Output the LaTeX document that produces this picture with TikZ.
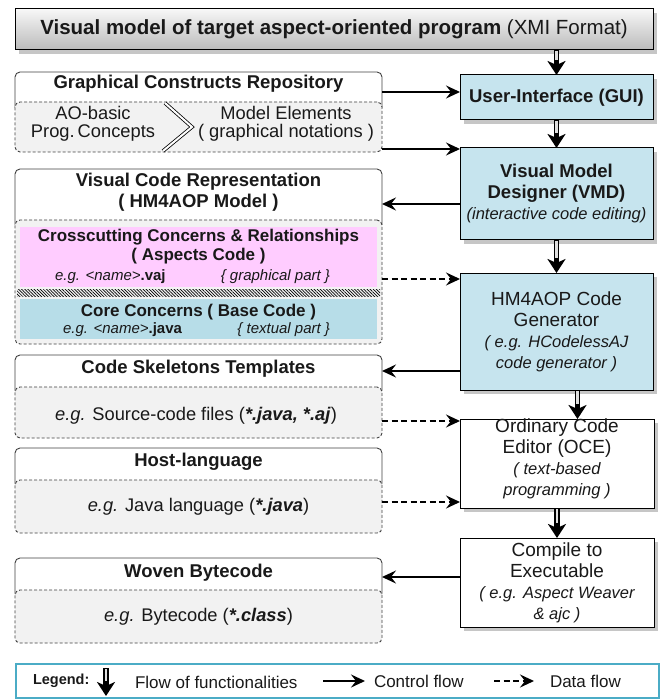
\documentclass[tikz,border=0pt]{standalone}
\usepackage{fontspec}
\setmainfont{Liberation Sans}
\usetikzlibrary{arrows.meta,shadows,patterns.meta,calc}

\definecolor{procblue}{RGB}{198,228,238}
\definecolor{coreblue}{RGB}{183,221,232}
\definecolor{aspectpink}{RGB}{255,204,255}
\definecolor{panelgray}{RGB}{242,242,242}
\definecolor{edgegray}{RGB}{64,64,64}
\definecolor{legendedge}{RGB}{75,172,198}
\definecolor{inkdark}{RGB}{25,25,25}

% font presets
\newcommand\fBanner{\fontsize{20.5}{23}\selectfont}
\newcommand\fHead{\fontsize{18.5}{21}\selectfont\bfseries}
\newcommand\fBig{\fontsize{19}{21}\selectfont}
\newcommand\fText{\fontsize{18.3}{18.5}\selectfont}
\newcommand\fNote{\fontsize{16.5}{21}\selectfont\mdseries\itshape}
\newcommand\fSub{\fontsize{17}{19}\selectfont\bfseries}
\newcommand\fEg{\fontsize{15}{16}\selectfont\mdseries}
\newcommand\fLeg{\fontsize{17}{18}\selectfont}

\begin{document}
\begin{tikzpicture}[x=1pt, y=-1pt, text=inkdark,
  every node/.style={inner sep=0pt, outer sep=0pt},
  banner/.style={anchor=north west, draw=black, line width=1pt,
    top color=black!3, bottom color=black!27,
    drop shadow={shadow xshift=4pt, shadow yshift=-4pt, opacity=0.45}},
  proc/.style={anchor=north west, draw=black, line width=1pt, fill=procblue,
    align=center,
    drop shadow={shadow xshift=4pt, shadow yshift=-4pt, opacity=0.45}},
  plainproc/.style={proc, fill=white},
  outer/.style={anchor=north west, draw=edgegray, line width=0.9pt,
    rounded corners=5pt, fill=white, minimum width=367pt},
  panel/.style={anchor=north west, draw=edgegray, line width=0.9pt,
    dash pattern=on 3pt off 2pt, rounded corners=5pt, fill=panelgray,
    minimum width=367pt},
  ctrl/.style={line width=2pt, draw=black,
    -{Stealth[length=14pt,width=13pt,inset=5pt]}},
  data/.style={ctrl, dash pattern=on 6pt off 3.5pt},
  flow/.style={line width=5.2pt, draw=black,
    -{Stealth[length=14pt,width=18pt,inset=4pt]},
    postaction={draw=white!88!black, line width=2.4pt, -, shorten >=15pt, shorten <=1pt}},
  head/.style={font=\fHead},
]
\useasboundingbox (0,0) rectangle (664,700);

% ---------- banner ----------
\node[banner, minimum width=638pt, minimum height=41pt] (top) at (15,9)
  {\fBanner\textbf{Visual model of target aspect-oriented program} (XMI Format)};

% ---------- tool chain (right column) ----------
\node[proc, minimum width=193pt, minimum height=45pt, font=\fHead] (gui) at (460,75)
  {User-Interface (GUI)};
\node[proc, minimum width=193pt, minimum height=92pt, font=\fHead] (vmd) at (460,148)
  {Visual Model\\Designer (VMD)\\{\fNote (interactive code editing)}};
\node[proc, minimum width=193pt, minimum height=117pt, font=\fBig] (hm) at (460,273)
  {HM4AOP Code\\Generator\\{\fNote ( e.g. HCodelessAJ}\\{\fNote code generator )}};
\node[plainproc, minimum width=194pt, minimum height=89pt] (oce) at (460,419) {};
\node[align=center, font=\fBig] (oceT) at (557,459)
  {Ordinary Code\\Editor (OCE)\\{\fNote ( text-based}\\{\fNote programming )}};
\node[plainproc, minimum width=194pt, minimum height=89pt, font=\fBig] (cmp) at (460,538)
  {Compile to\\Executable\\{\fNote ( e.g. Aspect Weaver}\\{\fNote \& ajc )}};

% ---------- artefacts (left column) ----------
% Graphical Constructs Repository
\node[outer, minimum height=40pt] (gcrHead) at (15,72) {};
\node[panel, minimum height=50pt] (gcrPanel) at (15,102) {};
\node[head] (gcrT) at (198.5,84) {Graphical Constructs Repository};
\node[align=center, font=\fText] (gcrA) at (93,124) {AO-basic\\Prog.\,Concepts};
\node[align=center, font=\fText] (gcrB) at (286,124) {Model Elements\\( graphical notations )};
\draw[line width=0.8pt, double distance=2pt, line join=miter]
  (165,103) -- (192,127) -- (163,151);

% Visual Code Representation
\node[outer, minimum height=60pt] (vcrHead) at (15,169) {};
\node[panel, minimum height=124pt] (vcrPanel) at (15,220) {};
\node[head, align=center] (vcrT) at (198.5,192) {Visual Code Representation\\( HM4AOP Model )};
\node[anchor=north west, fill=aspectpink, minimum width=357pt, minimum height=60pt] (asp) at (20,227) {};
\node[anchor=north west, pattern={Lines[angle=-45,distance=2.2pt,line width=0.7pt]},
  pattern color=black, minimum width=363pt, minimum height=7pt] (hatch) at (17,289) {};
\node[anchor=north west, fill=coreblue, minimum width=357pt, minimum height=40pt] (core) at (20,299) {};
\node[align=center, font=\fSub] (aspT) at (198.5,247)
  {Crosscutting Concerns \& Relationships\\( Aspects Code )};
\node[anchor=west, font=\fEg] (aspEg) at (55,277) {\textit{e.g. <name>}\textbf{.vaj}};
\node[anchor=east, font=\fEg\itshape] (aspPart) at (330,277) {\{ graphical part \}};
\node[font=\fSub] (coreT) at (198.5,312) {Core Concerns ( Base Code )};
\node[anchor=west, font=\fEg] (coreEg) at (63,330) {\textit{e.g. <name>}\textbf{.java}};
\node[anchor=east, font=\fEg\itshape] (corePart) at (330,330) {\{ textual part \}};

% Code Skeletons Templates
\node[outer, minimum height=40pt] (cstHead) at (15,355) {};
\node[panel, minimum height=51pt] (cstPanel) at (15,387) {};
\node[head] (cstT) at (198.5,369) {Code Skeletons Templates};
\node[font=\fText] (cstX) at (196,416)
  {\textit{e.g.} Source-code files (\textbf{\textit{*.java, *.aj}})};

% Host-language
\node[outer, minimum height=40pt] (hlHead) at (15,448) {};
\node[panel, minimum height=53pt] (hlPanel) at (15,480) {};
\node[head] (hlT) at (198.5,462) {Host-language};
\node[font=\fText] (hlX) at (198.5,507)
  {\textit{e.g.} Java language (\textbf{\textit{*.java}})};

% Woven Bytecode
\node[outer, minimum height=40pt] (wbHead) at (15,558) {};
\node[panel, minimum height=53pt] (wbPanel) at (15,590) {};
\node[head] (wbT) at (198.5,573) {Woven Bytecode};
\node[font=\fText] (wbX) at (198.5,617)
  {\textit{e.g.} Bytecode (\textbf{\textit{*.class}})};

% ---------- flow of functionalities ----------
\coordinate (hmOut) at ([xshift=21pt]hm.south);
\draw[flow] (top.south -| gui.north) -- (gui.north);
\draw[flow] (gui.south) -- (vmd.north);
\draw[flow] (vmd.south) -- (hm.north);
\draw[flow] (hmOut) -- (hmOut |- oce.north);
\draw[flow] (oce.south) -- (cmp.north);

% ---------- control and data flow ----------
\coordinate (yA) at (0,92);
\coordinate (yB) at (0,149);
\coordinate (yC) at (0,204);
\coordinate (yD) at (0,279);
\coordinate (yE) at (0,371);
\coordinate (yF) at (0,421);
\coordinate (yG) at (0,502);
\coordinate (yH) at (0,577);
\draw[ctrl] (gcrHead.east |- yA) -- (gui.west |- yA);
\draw[ctrl] (gcrPanel.east |- yB) -- (vmd.west |- yB);
\draw[ctrl] (vmd.west |- yC) -- (vcrHead.east |- yC);
\draw[data] (vcrPanel.east |- yD) -- (hm.west |- yD);
\draw[ctrl] (hm.west |- yE) -- (cstHead.east |- yE);
\draw[data] (cstPanel.east |- yF) -- (oce.west |- yF);
\draw[data] (hlPanel.east |- yG) -- (oce.west |- yG);
\draw[ctrl] (cmp.west |- yH) -- (wbHead.east |- yH);

% ---------- legend ----------
\node[anchor=north west, draw=legendedge, line width=1.2pt,
  minimum width=643pt, minimum height=34pt] (legend) at (16,664) {};
\node[anchor=west, font=\fontsize{14.5}{16}\selectfont\bfseries] (lgKey) at (33,681) {Legend:};
\node[anchor=west, font=\fLeg] (lgFlow) at (135,682) {Flow of functionalities};
\node[anchor=west, font=\fLeg] (lgCtrl) at (374,681) {Control flow};
\node[anchor=west, font=\fLeg] (lgData) at (550,681) {Data flow};
\coordinate (lf1) at (106,668);
\coordinate (lf2) at (106,696);
\draw[flow] (lf1) -- (lf2);
\coordinate (lc1) at (323,681);
\draw[ctrl] (lc1) -- ([xshift=-9pt]lgCtrl.west);
\coordinate (ld1) at (494,681);
\draw[data] (ld1) -- ([xshift=-16pt]lgData.west);
\end{tikzpicture}
\end{document}
